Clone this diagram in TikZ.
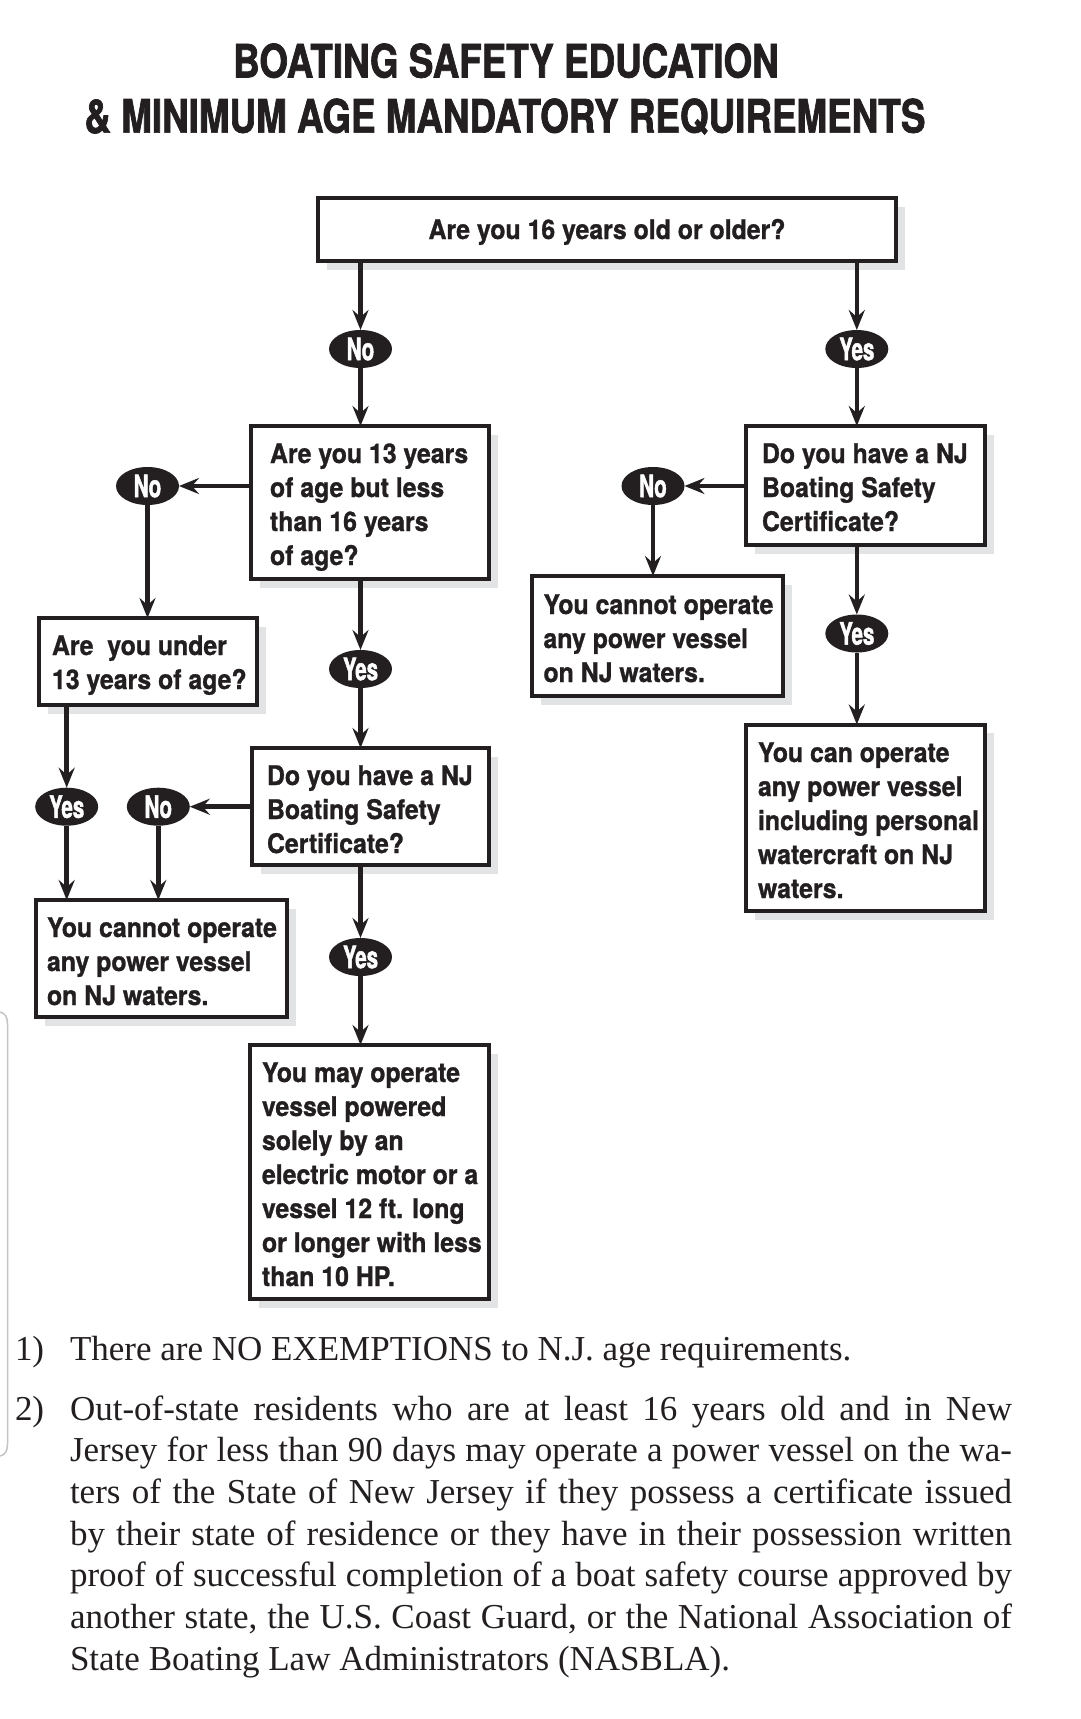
\documentclass[tikz,border=0pt]{standalone}
\usepackage{fontspec}
\setmainfont{TeX Gyre Heros}[FakeStretch=0.92, BoldFeatures={FakeBold=1.0}]
\newfontfamily\titlefont{TeX Gyre Heros}[FakeStretch=0.8, BoldFeatures={FakeBold=1.5}]
\newfontfamily\ovalfont{TeX Gyre Heros}[FakeStretch=0.66, BoldFeatures={FakeBold=1.5}]
\newfontfamily\notefont{Liberation Serif}
\usetikzlibrary{arrows.meta,shapes.geometric,shadows}
\definecolor{ink}{HTML}{231F20}
\definecolor{shade}{HTML}{E2E3E5}
\definecolor{bracketgray}{HTML}{C4C4C4}
\newcommand\tlines[1]{\vtop{\baselineskip=34pt\lineskiplimit=-100pt\halign{##\hfil\cr#1\crcr}}}
\newcommand\flowbox[5]{\node[fbox, minimum width={(#4)-(#2)-4}, minimum height={(#5)-(#3)-4}] (#1) at ({((#2)+(#4))/2},{((#3)+(#5))/2}) {};}
\tikzset{
  fbox/.style={rectangle, draw=ink, line width=4pt, fill=white, inner sep=0pt, outer sep=0pt,
    drop shadow={shadow xshift=9pt, shadow yshift=-8.5pt, fill=shade, opacity=1}},
  btext/.style={inner sep=0pt, outer sep=0pt, text=ink, font=\bfseries\fontsize{27}{34}\selectfont},
  oval/.style={ellipse, fill=ink, minimum width=63pt, minimum height=38pt, inner sep=0pt, outer sep=0pt,
    text=white, font=\ovalfont\bfseries\fontsize{31}{31}\selectfont},
  arr/.style={draw=ink, line width=4.5pt, -{Stealth[length=20pt, width=16pt, inset=7pt]}},
  titletext/.style={inner sep=0pt, text=ink, font=\titlefont\bfseries\fontsize{46}{50}\selectfont},
  note/.style={inner sep=0pt, outer sep=0pt, text=ink, font=\notefont\fontsize{35}{41.7}\selectfont},
}
\begin{document}
\begin{tikzpicture}[x=1pt, y=-1pt]
\fill[white] (0,0) rectangle (1080,1719);
\useasboundingbox (0,0) rectangle (1080,1719);

% title
\node[titletext, anchor=base] (title1) at (506,77.5) {BOATING SAFETY EDUCATION};
\node[titletext, anchor=base] (title2) at (505,132.6) {\& MINIMUM AGE MANDATORY REQUIREMENTS};

% boxes
\flowbox{top}{316}{196}{898}{263}
\flowbox{q13}{249}{424}{491}{581}
\flowbox{certR}{744}{424}{987}{547}
\flowbox{under13}{37}{616}{259}{707}
\flowbox{cannotR}{530}{574}{784.5}{698}
\flowbox{certL}{250}{746}{491}{867}
\flowbox{canR}{744}{722.5}{987}{913}
\flowbox{cannotL}{34}{898}{289}{1019}
\flowbox{mayL}{248}{1043}{491}{1301}

% box texts
\node[btext, anchor=base] (ttop) at (607,239) {Are you 16 years old or older?};
\node[btext, anchor=base west] (tq13) at (270,463) {\tlines{Are you 13 years\cr of age but less\cr than 16 years\cr of age?}};
\node[btext, anchor=base west] (tcertR) at (762,463) {\tlines{Do you have a NJ\cr Boating Safety\cr Certificate?}};
\node[btext, anchor=base west] (tunder13) at (52,655) {\tlines{Are\ \ you under\cr 13 years of age?}};
\node[btext, anchor=base west] (tcannotR) at (543.5,614) {\tlines{You cannot operate\cr any power vessel\cr on NJ waters.}};
\node[btext, anchor=base west] (tcertL) at (267,785) {\tlines{Do you have a NJ\cr Boating Safety\cr Certificate?}};
\node[btext, anchor=base west] (tcanR) at (758,762) {\tlines{You can operate\cr any power vessel\cr including personal\cr watercraft on NJ\cr waters.}};
\node[btext, anchor=base west] (tcannotL) at (47,937) {\tlines{You cannot operate\cr any power vessel\cr on NJ waters.}};
\node[btext, anchor=base west] (tmayL) at (262,1082) {\tlines{You may operate\cr vessel powered\cr solely by an\cr electric motor or a\cr vessel 12 ft. long\cr or longer with less\cr than 10 HP.}};

% ovals
\node[oval] (noA) at (360.5,349) {No};
\node[oval] (yesA) at (856.8,349) {Yes};
\node[oval] (noB) at (147.5,486) {No};
\node[oval] (noR) at (653,486) {No};
\node[oval] (yesB) at (360.5,669) {Yes};
\node[oval] (yesR) at (856.8,633.5) {Yes};
\node[oval] (yesC) at (66.7,806.7) {Yes};
\node[oval] (noC) at (158.3,806.7) {No};
\node[oval] (yesD) at (360.5,957) {Yes};

% connectors
\draw[arr] (top.south -| noA) -- (noA);
\draw[arr] (noA) -- (noA |- q13.north);
\draw[arr] (top.south -| yesA) -- (yesA);
\draw[arr] (yesA) -- (yesA |- certR.north);
\draw[arr] (q13.west |- noB) -- (noB);
\draw[arr] (noB) -- (noB |- under13.north);
\draw[arr] (q13.south -| yesB) -- (yesB);
\draw[arr] (yesB) -- (yesB |- certL.north);
\draw[arr] (under13.south -| yesC) -- (yesC);
\draw[arr] (yesC) -- (yesC |- cannotL.north);
\draw[arr] (certL.west |- noC) -- (noC);
\draw[arr] (noC) -- (noC |- cannotL.north);
\draw[arr] (certL.south -| yesD) -- (yesD);
\draw[arr] (yesD) -- (yesD |- mayL.north);
\draw[arr] (certR.west |- noR) -- (noR);
\draw[arr] (noR) -- (noR |- cannotR.north);
\draw[arr] (certR.south -| yesR) -- (yesR);
\draw[arr] (yesR) -- (yesR |- canR.north);

% footnotes
\node[note, anchor=base west] (n1) at (15,1360.7) {1)};
\node[note, anchor=base west] (n1t) at (70,1360.7) {There are NO EXEMPTIONS to N.J. age requirements.};
\node[note, anchor=base west] (n2) at (15,1420) {2)};
\node[note, anchor=base west] (n2a) at (70,1420) {\makebox[942pt][s]{Out-of-state residents who are at least 16 years old and in New}};
\node[note, anchor=base west] (n2b) at (70,1461.7) {\makebox[942pt][s]{Jersey for less than 90 days may operate a power vessel on the wa-}};
\node[note, anchor=base west] (n2c) at (70,1503.3) {\makebox[942pt][s]{ters of the State of New Jersey if they possess a certificate issued}};
\node[note, anchor=base west] (n2d) at (70,1545) {\makebox[942pt][s]{by their state of residence or they have in their possession written}};
\node[note, anchor=base west] (n2e) at (70,1586.7) {\makebox[942pt][s]{proof of successful completion of a boat safety course approved by}};
\node[note, anchor=base west] (n2f) at (70,1628.3) {\makebox[942pt][s]{another state, the U.S. Coast Guard, or the National Association of}};
\node[note, anchor=base west] (n2g) at (70,1670) {State Boating Law Administrators (NASBLA).};

% left margin artefact
\draw[bracketgray, line width=1.5pt] (0,1012) .. controls (5,1013) and (7.5,1017) .. (7.5,1024) -- (7.5,1444) .. controls (7.5,1451) and (5,1455) .. (0,1456);
\end{tikzpicture}
\end{document}
